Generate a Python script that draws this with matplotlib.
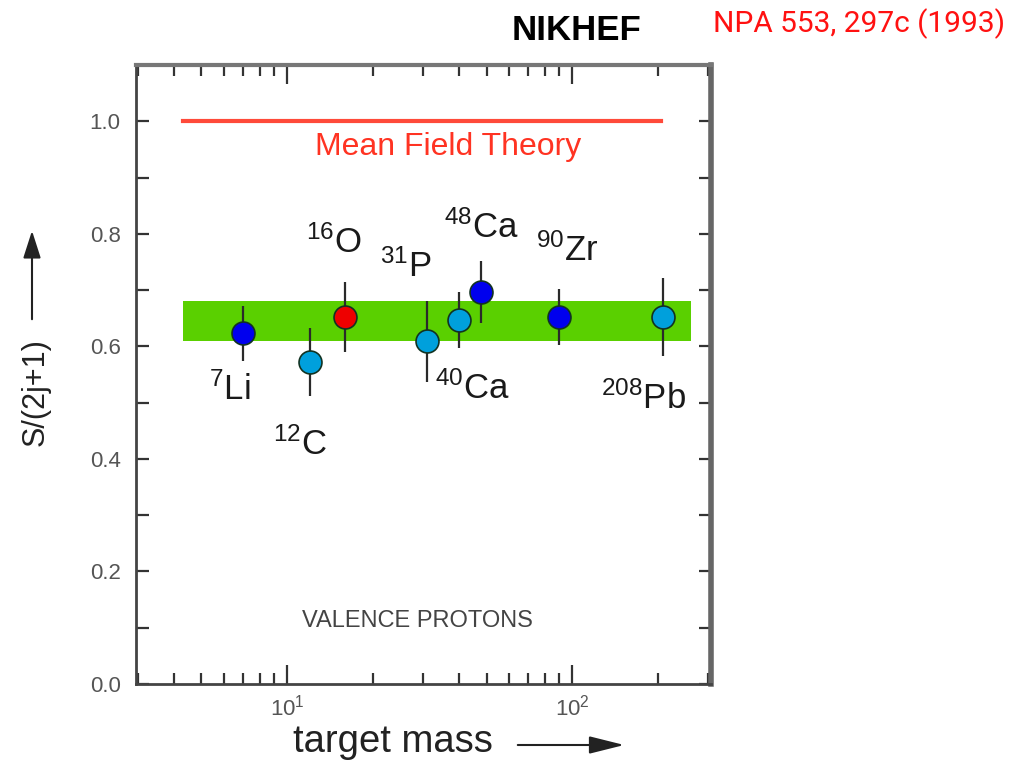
import numpy as np
import matplotlib
matplotlib.use('Agg')
import matplotlib.pyplot as plt
from matplotlib.ticker import LogLocator, MultipleLocator, FixedLocator, NullFormatter

plt.rcParams['font.family'] = ['Liberation Sans', 'DejaVu Sans']
plt.rcParams['mathtext.fontset'] = 'custom'
plt.rcParams['mathtext.rm'] = 'Liberation Sans'
plt.rcParams['mathtext.it'] = 'Liberation Sans:italic'
plt.rcParams['mathtext.bf'] = 'Liberation Sans:bold'

### data
nuclei = [r'$^{7}$Li', r'$^{12}$C', r'$^{16}$O', r'$^{31}$P',
          r'$^{40}$Ca', r'$^{48}$Ca', r'$^{90}$Zr', r'$^{208}$Pb']
mass = [7, 12, 16, 31, 40, 48, 90, 208]
sf = [0.623, 0.572, 0.652, 0.609, 0.647, 0.696, 0.652, 0.652]
sf_err = [0.049, 0.060, 0.062, 0.072, 0.050, 0.055, 0.050, 0.070]
kind = ['dark', 'light', 'red', 'light', 'light', 'dark', 'dark', 'light']

band_lo, band_hi = 0.609, 0.681
band_mass = [4.3, 261]
mft_value = 1.0
mft_mass = [4.3, 205]

yticks = [0.0, 0.2, 0.4, 0.6, 0.8, 1.0]

# label offsets (pixels) from each point
label_dx = [-13, -10, -12, -21, 13, 0, 8, -20]
label_dy = [-56, -82, 75, 75, -69, 65, 67, -81]

colors = {'dark': '#0000ee', 'light': '#00a0dc', 'red': '#ee0000'}

fig = plt.figure(figsize=(10.11, 7.61), dpi=100)
ax = fig.add_axes([0.1345, 0.1012, 0.5687, 0.8134])

ax.set_xscale('log')
ax.set_xlim(2.95, 306)
ax.set_ylim(0, 1.1)

# green band of measured values
ax.fill_between(band_mass, [band_lo, band_lo], [band_hi, band_hi],
                color='#5ad000', lw=0, zorder=1)
# mean field prediction
ax.plot(mft_mass, [mft_value, mft_value], color='#ff4a3a', lw=3, zorder=2)
ax.text(np.sqrt(18 * 75), 0.955, 'Mean Field Theory', color='#ff3322',
        fontsize=23, ha='center', va='center')

for i in range(len(mass)):
    ax.errorbar(mass[i], sf[i], yerr=sf_err[i], fmt='none',
                ecolor='#2a2a2a', elinewidth=1.6, capsize=0, zorder=3)
    ax.plot(mass[i], sf[i], 'o', ms=16.5, mfc=colors[kind[i]],
            mec='#123322', mew=1.2, zorder=4)
    ax.annotate(nuclei[i], (mass[i], sf[i]), xytext=(label_dx[i], label_dy[i]),
                textcoords='offset pixels', ha='center', va='center',
                fontsize=25, color='#1a1a1a')

ax.text(0.49, 0.101, 'VALENCE PROTONS', transform=ax.transAxes,
        fontsize=17, color='#444444', ha='center', va='center')

# axes styling
ax.yaxis.set_major_locator(FixedLocator(yticks))
ax.yaxis.set_minor_locator(MultipleLocator(0.1))
ax.set_yticklabels(['%.1f' % v for v in yticks])
ax.xaxis.set_major_locator(LogLocator(base=10, numticks=10))
ax.xaxis.set_minor_locator(LogLocator(base=10, subs=np.arange(2, 10), numticks=10))
ax.xaxis.set_minor_formatter(NullFormatter())

ax.tick_params(which='both', direction='in', top=True, right=True,
               colors='#333333', labelcolor='#555555', labelsize=16, width=1.6)
ax.tick_params(axis='x', which='major', length=14, pad=8)
ax.tick_params(axis='x', which='minor', length=8)
ax.tick_params(axis='y', which='major', length=9, pad=11)
ax.tick_params(axis='y', which='minor', length=9)

for s in ['left', 'bottom']:
    ax.spines[s].set_color('#444444')
    ax.spines[s].set_linewidth(2)
ax.spines['top'].set_color('#777777')
ax.spines['top'].set_linewidth(3)
ax.spines['right'].set_color('#666666')
ax.spines['right'].set_linewidth(4)

# axis titles with arrows
fig.text(36 / 1011, 1 - 392 / 761, 'S/(2j+1)', rotation=90, fontsize=22,
         color='#222222', ha='center', va='center')
fig.patches.append(matplotlib.patches.FancyArrowPatch(
    (32 / 1011, 1 - 322 / 761), (32 / 1011, 1 - 228 / 761),
    transform=fig.transFigure, arrowstyle='-|>,head_length=1.4,head_width=0.45',
    mutation_scale=12, color='#222222', lw=1.5))

fig.text(393 / 1011, 1 - 742 / 761, 'target mass', fontsize=27.5,
         color='#222222', ha='center', va='center')
fig.patches.append(matplotlib.patches.FancyArrowPatch(
    (515 / 1011, 1 - 745 / 761), (627 / 1011, 1 - 745 / 761),
    transform=fig.transFigure, arrowstyle='-|>,head_length=1.8,head_width=0.45',
    mutation_scale=12, color='#222222', lw=1.5))

fig.text(576 / 1011, 1 - 31 / 761, 'NIKHEF', fontsize=25, fontweight='bold',
         color='black', ha='center', va='center')
fig.text(1005 / 1011, 1 - 24 / 761, 'NPA 553, 297c (1993)', fontsize=21.5,
         family=['Roboto', 'DejaVu Sans'], color='#ff1111', ha='right', va='center')

fig.savefig('out.png', dpi=100)
